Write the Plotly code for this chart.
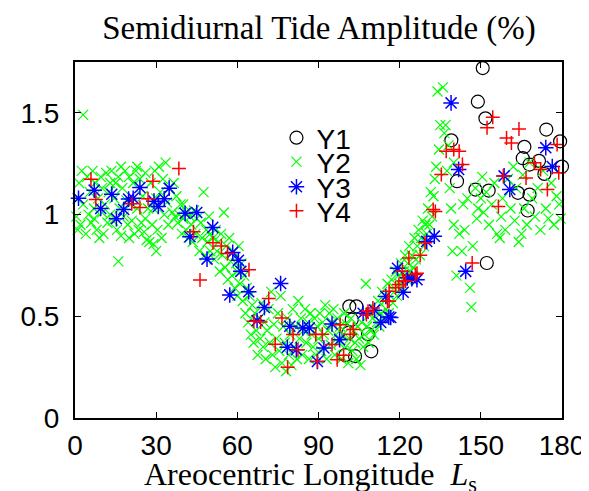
import plotly.graph_objects as go

# areocentric longitude (deg) and semidiurnal tide amplitude (%) per year
ls_y1 = [150.7, 148.9, 151.7, 139.1, 174.2, 166.1, 179.3, 180.0, 165.5, 171.5,
         168.0, 173.5, 141.2, 148.0, 152.9, 163.7, 168.0, 167.3, 152.2,
         101.4, 104.0, 102.3, 108.3, 101.0, 109.5, 99.9, 103.5]
amp_y1 = [1.72, 1.555, 1.473, 1.365, 1.418, 1.333, 1.36, 1.236, 1.277, 1.264,
          1.246, 1.20, 1.164, 1.123, 1.118, 1.107, 1.098, 1.02, 0.762,
          0.549, 0.549, 0.484, 0.412, 0.418, 0.328, 0.309, 0.304]

ls_y2 = [0.5, 1, 1.5, 2, 3, 3, 4, 4.5, 5, 5.5, 6, 6.5, 7, 7.5, 8, 8.5, 9, 9.5, 10, 10, 2.5, 7, 1,
         10.5, 11, 11.5, 12, 12.5, 13, 13.5, 14, 14.5, 15, 15.5, 16, 16, 16.5, 17, 17.5, 18, 18.5,
         19, 19.5, 20, 20, 13, 17,
         20.5, 21, 21.5, 22, 22.5, 23, 23.5, 24, 24.5, 25, 25.5, 26, 26.5, 27, 27.5, 28, 28.5, 29,
         29.5, 30, 30, 26, 23, 29,
         30.5, 31, 31.5, 32, 32.5, 33, 33.5, 34, 34.5, 35, 36, 36.5, 37, 37.5, 38, 38.5, 39, 39.5,
         40, 40,
         41, 41.5, 42, 42.5, 43, 43.5, 44, 44.5, 45, 46, 46.5, 47, 47.5, 48, 48.5, 49, 49.5, 50, 50,
         51, 51.5, 52, 52.5, 53, 53.5, 54, 54.5, 55, 55.5, 56, 56.5, 57, 57.5, 58, 58.5, 59, 59.5,
         60, 60,
         60.5, 61, 61.5, 62, 62.5, 63, 63.5, 64, 64.5, 65, 65.5, 66, 66.5, 67, 67.5, 68, 68.5, 69,
         69.5, 70,
         70.5, 71, 71.5, 72, 72.5, 73, 73.5, 74, 74.5, 75, 75.5, 76, 76.5, 77, 77.5, 78, 78.5, 79,
         79.5, 80,
         80.5, 81, 81.5, 82, 82.5, 83, 83.5, 84, 84.5, 85, 85.5, 86, 86.5, 87, 87.5, 88, 88.5, 89,
         89.5, 90,
         90.5, 91, 91.5, 92, 92.5, 93, 93.5, 94, 94.5, 95, 95.5, 96, 96.5, 97, 97.5, 98, 98.5, 99,
         99.5, 100,
         100.5, 101, 101.5, 102, 102.5, 103, 103.5, 104, 104.5, 105, 105.5, 106, 106.5, 107, 107.5,
         108, 108.5, 109, 109.5, 110,
         110.5, 111, 111.5, 112, 112.5, 113, 113.5, 114, 114.5, 115, 115.5, 116, 116.5, 117, 117.5,
         118, 118.5, 119, 119.5, 120,
         120.5, 121, 121.5, 122, 122.5, 123, 123.5, 124, 124.5, 125, 125.5, 126, 126.5, 127, 127.5,
         128, 128.5, 129, 129.5, 130,
         130.5, 131, 131.5, 132, 132.5, 133, 133.5, 134, 134.5, 135, 136, 136.5, 137, 137.5, 138,
         138.5, 139, 139.5, 140, 140,
         141, 142, 143, 143.5, 144, 145, 146.5, 146, 147, 148, 148.5, 149, 150, 150.5, 151, 152,
         153, 154, 155, 156, 157, 157.5, 158, 159, 160, 161, 162, 162.5, 163, 164, 165, 165.5,
         166, 167, 168, 169, 170, 171, 172, 173, 174, 175, 176, 177, 178, 179, 179.5]
amp_y2 = [0.99, 1.08, 1.155, 0.95, 1.49, 1.05, 0.905, 1.185, 1.00, 1.11, 0.96, 1.215, 1.03, 1.155,
          0.925, 1.08, 0.885, 1.185, 1.01, 1.13, 1.215, 0.98, 0.925,
          0.905, 1.05, 1.205, 0.96, 1.11, 1.00, 1.215, 0.97, 1.08, 1.155, 0.925, 0.77, 1.185, 1.03,
          0.895, 1.13, 0.99, 1.215, 1.07, 0.95, 1.185, 0.885, 1.155, 1.235,
          1.05, 0.97, 1.155, 0.905, 1.215, 1.03, 0.925, 1.175, 0.96, 1.09, 0.915, 1.205, 0.875, 1.03,
          0.865, 1.155, 0.95, 0.855, 1.215, 0.82, 1.08, 0.98, 1.235, 1.03,
          0.925, 1.235, 1.11, 0.885, 1.175, 1.00, 1.255, 1.06, 0.95, 1.13, 1.01, 1.155, 0.99, 1.09,
          0.96, 1.00, 1.05, 0.905, 0.98, 1.05,
          0.925, 1.01, 0.885, 0.99, 0.95, 0.865, 1.02, 0.905, 0.98, 0.82, 0.96, 0.885, 1.11, 0.80,
          0.925, 0.865, 0.99, 0.82, 0.905,
          0.885, 0.78, 0.925, 0.82, 0.865, 0.72, 0.905, 0.80, 1.01, 0.74, 0.845, 0.68, 0.885, 0.77,
          0.70, 0.82, 0.64, 0.76, 0.72, 0.60,
          0.845, 0.66, 0.76, 0.575, 0.70, 0.515, 0.64, 0.47, 0.60, 0.41, 0.555, 0.37, 0.515, 0.43,
          0.31, 0.49, 0.39, 0.565, 0.35, 0.47,
          0.29, 0.43, 0.535, 0.37, 0.62, 0.31, 0.46, 0.25, 0.39, 0.515, 0.33, 0.60, 0.27, 0.45, 0.37,
          0.23, 0.49, 0.31, 0.41, 0.26,
          0.535, 0.35, 0.45, 0.29, 0.575, 0.39, 0.49, 0.31, 0.43, 0.535, 0.37, 0.47, 0.29, 0.515,
          0.41, 0.35, 0.49, 0.31, 0.45, 0.39,
          0.515, 0.33, 0.47, 0.41, 0.555, 0.29, 0.43, 0.515, 0.36, 0.47, 0.535, 0.31, 0.41, 0.49,
          0.37, 0.45, 0.29, 0.41, 0.515, 0.35,
          0.46, 0.27, 0.39, 0.49, 0.33, 0.43, 0.37, 0.29, 0.45, 0.39, 0.26, 0.47, 0.35, 0.41, 0.66,
          0.45, 0.37, 0.515, 0.43, 0.49,
          0.41, 0.535, 0.47, 0.575, 0.45, 0.515, 0.62, 0.49, 0.575, 0.535, 0.66, 0.515, 0.60, 0.68,
          0.565, 0.64, 0.72, 0.60, 0.70, 0.66,
          0.76, 0.64, 0.72, 0.80, 0.68, 0.76, 0.845, 0.72, 0.80, 0.74, 0.885, 0.78, 0.845, 0.925,
          0.80, 0.885, 0.97, 0.845, 0.95, 0.905,
          1.03, 0.95, 1.11, 0.99, 1.09, 1.175, 1.235, 1.605, 1.32, 1.44, 1.625, 1.40, 1.44, 1.215,
          1.34, 1.13, 1.03, 0.82, 0.95, 1.255,
          0.70, 0.905, 0.82, 1.05, 0.925, 1.08, 0.545, 0.64, 0.845, 1.13, 0.98, 1.03, 1.08, 1.185,
          1.01, 1.11, 0.95, 1.05, 1.155, 0.905, 0.885, 0.99, 1.08, 0.925, 1.175, 1.03, 1.235, 0.97,
          1.13, 0.865, 0.905, 1.195, 1.03, 0.95, 1.255, 1.08, 0.99, 1.13, 0.925, 1.215, 1.03, 0.98,
          1.155, 0.95, 1.09, 1.05, 0.98]

ls_y3 = [1.3, 7.1, 9.5, 13.6, 15.3, 18, 19.8, 21.5, 24, 29.2, 30.8, 33, 34.8, 40.7, 45, 50.9,
         42.5, 48.8, 58.3, 60.4, 61.3, 57.2, 64.2, 70, 76, 67.3, 79.4, 84.2, 86.6, 78.5, 81.8,
         92, 89.6, 95, 97.8, 106.5, 110.7, 113, 116, 114.9, 119.2, 122.8, 126.4, 124.5, 121.3,
         116.7, 130, 132.8, 144.4, 139, 141.8, 158.6, 160.7, 174, 176.4]
amp_y3 = [1.08, 1.12, 1.03, 1.10, 0.98, 1.025, 1.076, 1.08, 1.133, 1.066, 1.04, 1.078, 1.13,
          1.006, 1.01, 0.937, 0.891, 0.781, 0.814, 0.775, 0.721, 0.605, 0.621, 0.543, 0.661,
          0.479, 0.451, 0.443, 0.443, 0.348, 0.336, 0.344, 0.278, 0.462, 0.385, 0.515, 0.53,
          0.47, 0.496, 0.597, 0.736, 0.689, 0.68, 0.685, 0.618, 0.494, 0.868, 0.894, 0.721,
          1.549, 1.222, 1.19, 1.123, 1.329, 1.236]

ls_y4 = [5.9, 7.7, 38.4, 28.8, 21, 24, 27, 43.8, 51, 54.1, 56.4, 46.2, 64.3, 71.6, 66.1, 68.6,
         76.5, 80.6, 74, 82.4, 78.6, 91.4, 89, 98, 101.7, 99.3, 96.9, 95, 89.6, 102.9, 108.3,
         110.1, 116.1, 118.5, 119.7, 121, 107.7, 116.1, 121.5, 126.4, 115.5, 135.4, 132.4, 133.2,
         129.4, 127.6, 123.4, 125.8, 122.2, 146.8, 156.5, 158.3, 166.7, 174.6, 178.8, 154.4,
         152.3, 164.1, 159.5, 161.3, 137.2, 140, 142, 143.2, 169.8, 172.1, 178.2]
amp_y4 = [1.174, 1.074, 1.226, 1.164, 1.053, 1.035, 1.078, 0.915, 0.861, 0.845, 0.809, 0.678,
          0.729, 0.587, 0.476, 0.472, 0.492, 0.41, 0.363, 0.336, 0.25, 0.412, 0.41, 0.459, 0.412,
          0.309, 0.286, 0.361, 0.278, 0.435, 0.525, 0.541, 0.574, 0.64, 0.656, 0.721, 0.509,
          0.623, 0.673, 0.711, 0.574, 1.197, 1.025, 1.015, 0.861, 0.80, 0.787, 0.705, 0.673,
          0.762, 1.04, 1.189, 1.18, 1.123, 1.205, 1.479, 1.427, 1.421, 1.377, 1.352, 1.311, 1.32,
          1.311, 1.246, 1.255, 1.222, 1.344]

x_ticks = [0, 30, 60, 90, 120, 150, 180]
y_ticks = [0, 0.5, 1, 1.5]

series = [
    ("Y1", ls_y1, amp_y1, "circle-open", 13, "black", 1.2),
    ("Y2", ls_y2, amp_y2, "x-thin-open", 10, "#00ff00", 1.2),
    ("Y3", ls_y3, amp_y3, "asterisk-open", 13, "#0000ff", 1.5),
    ("Y4", ls_y4, amp_y4, "cross-thin-open", 10, "#ff0000", 1.5),
]
legend_rows = [130, 154, 179, 203]  # pixel positions of the legend rows

TOP, BOTTOM = 54, 410
plot_h = BOTTOM - TOP

fig = go.Figure()
legends = {}
for i, (name, xs, ys, sym, size, color, lw) in enumerate(series):
    key = "legend" if i == 0 else f"legend{i + 1}"
    fig.add_trace(go.Scatter(
        x=xs, y=ys, mode="markers", name=name, legend=key, cliponaxis=False,
        marker=dict(symbol=sym, size=size, color=color,
                    line=dict(color=color, width=lw))))
    legends[key] = dict(
        x=(268 - 62) / 498, y=(BOTTOM - legend_rows[i]) / plot_h,
        xanchor="left", yanchor="middle", bgcolor="rgba(0,0,0,0)",
        borderwidth=0, font=dict(family="Liberation Sans", size=28, color="black"))

axis_style = dict(showline=True, linecolor="black", linewidth=2, mirror="ticks",
                  ticks="inside", ticklen=6, tickwidth=1, tickcolor="black",
                  showgrid=False, zeroline=False,
                  tickfont=dict(family="Liberation Sans", size=28, color="black"))

fig.update_layout(
    width=589, height=491,
    margin=dict(l=62, r=29, t=TOP, b=491 - BOTTOM),
    plot_bgcolor="white", paper_bgcolor="white",
    showlegend=True,
    title=dict(text="Semidiurnal Tide Amplitude (%)", x=311 / 589, xanchor="center",
               y=1 - 19 / 491, yanchor="middle",
               font=dict(family="Liberation Serif", size=33, color="black")),
    xaxis=dict(range=[0, 180], tickvals=x_ticks, ticklabelstandoff=1, **axis_style),
    yaxis=dict(range=[0, 1.75], tickvals=y_ticks, ticklabelstandoff=8, **axis_style),
    annotations=[dict(text="Areocentric Longitude  <i>L</i><sub>s</sub>",
                      xref="paper", yref="paper", x=(303 - 62) / 498,
                      y=-(469 - BOTTOM) / plot_h, xanchor="center", yanchor="middle",
                      showarrow=False,
                      font=dict(family="Liberation Serif", size=32, color="black"))],
    **legends,
)

fig.write_html("out.html")
